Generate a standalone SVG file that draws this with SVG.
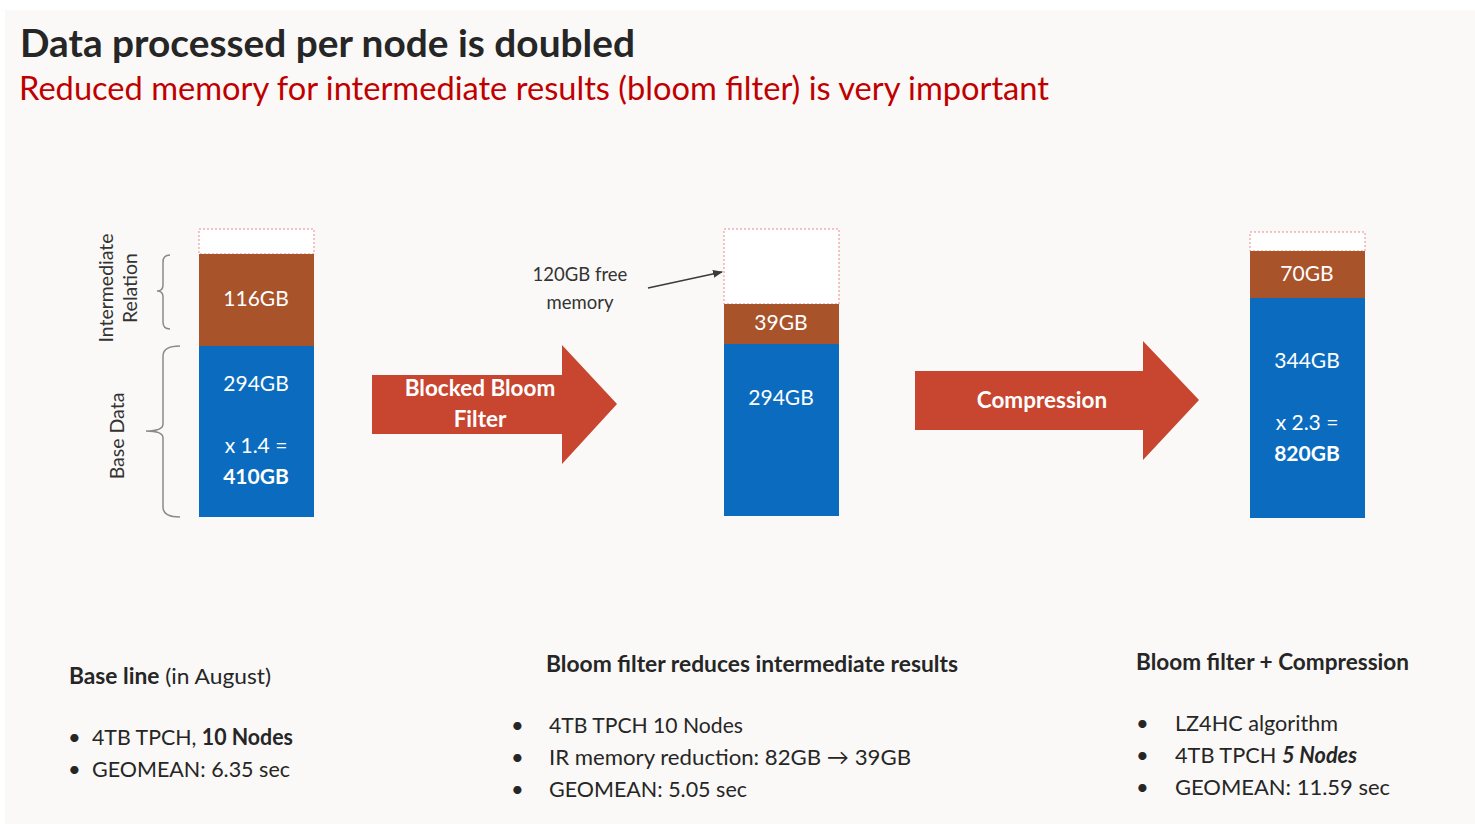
<svg xmlns="http://www.w3.org/2000/svg" width="1475" height="824" viewBox="0 0 1475 824">
<defs>
<style>
text{font-family:Lato,"Open Sans","Liberation Sans",sans-serif;fill:#262626}
.w{fill:#ffffff;text-anchor:middle}
.b{font-weight:bold}
.bar{font-size:21px}
.arr{font-size:22.5px;font-weight:bold}
.side{font-size:19.5px;fill:#333}
.note{font-size:18.5px;fill:#333}
.body{font-size:22px}
.free{fill:#ffffff;stroke:#e88b8b;stroke-width:1;stroke-dasharray:2 2}
.brown{fill:#a9532a}
.blue{fill:#0b6cbf}
.bigarrow{fill:#c8452f}
.brace{fill:none;stroke:#8a8a8a;stroke-width:1.5}
</style>
<marker id="ah" markerWidth="10" markerHeight="8" refX="9" refY="4" orient="auto" markerUnits="userSpaceOnUse">
<path d="M0,0 L10,4 L0,8 z" fill="#3a3a3a"/>
</marker>
</defs>
<rect x="0" y="0" width="1475" height="824" fill="#ffffff"/>
<rect x="5" y="10" width="1470" height="814" fill="#faf9f7"/>

<g id="title">
<text x="20" y="57" font-size="38" class="b" textLength="615" lengthAdjust="spacingAndGlyphs">Data processed per node is doubled</text>
<text x="19" y="100" font-size="32" style="fill:#c00000" textLength="1030" lengthAdjust="spacingAndGlyphs">Reduced memory for intermediate results (bloom filter) is very important</text>
</g>

<g id="bar-baseline">
<rect class="free" x="199" y="229" width="115" height="25"/>
<rect class="brown" x="199" y="254" width="115" height="92"/>
<rect class="blue" x="199" y="346" width="115" height="171"/>
<text class="w bar" x="256" y="306">116GB</text>
<text class="w bar" x="256" y="391">294GB</text>
<text class="w bar" x="256" y="453">x 1.4 =</text>
<text class="w bar b" x="256" y="484">410GB</text>
</g>

<g id="labels-left">
<path class="brace" d="M170,255 Q163,255 163,262 L163,285 Q163,291 157,291 Q163,291 163,297 L163,322 Q163,329 170,329"/>
<path class="brace" d="M180,346 Q163,346 163,356 L163,424 Q163,431 146,431 Q163,431 163,438 L163,507 Q163,517 180,517"/>
<text class="side" transform="translate(113,288) rotate(-90)" text-anchor="middle">Intermediate</text>
<text class="side" transform="translate(137,288) rotate(-90)" text-anchor="middle">Relation</text>
<text class="side" transform="translate(124,436) rotate(-90)" text-anchor="middle">Base Data</text>
</g>

<g id="arrow-bloom">
<path class="bigarrow" d="M372,375 L562,375 L562,345 L617,404 L562,464 L562,434 L372,434 z"/>
<text class="w arr" x="480" y="396">Blocked Bloom</text>
<text class="w arr" x="480" y="427">Filter</text>
</g>

<g id="bar-bloom">
<rect class="free" x="724" y="229" width="115" height="75"/>
<rect class="brown" x="724" y="304" width="115" height="40"/>
<rect class="blue" x="724" y="344" width="115" height="172"/>
<text class="w bar" x="781" y="330">39GB</text>
<text class="w bar" x="781" y="405">294GB</text>
</g>

<g id="annotation-free">
<text class="note" x="580" y="281" text-anchor="middle">120GB free</text>
<text class="note" x="580" y="309" text-anchor="middle">memory</text>
</g>

<g id="connectors">
<line x1="648" y1="288" x2="722" y2="272" stroke="#3a3a3a" stroke-width="1.5" marker-end="url(#ah)"/>
</g>

<g id="arrow-compression">
<path class="bigarrow" d="M915,371 L1143,371 L1143,341 L1199,400 L1143,460 L1143,430 L915,430 z"/>
<text class="w arr" x="1042" y="408">Compression</text>
</g>

<g id="bar-compression">
<rect class="free" x="1250" y="232" width="115" height="19"/>
<rect class="brown" x="1250" y="251" width="115" height="47"/>
<rect class="blue" x="1250" y="298" width="115" height="220"/>
<text class="w bar" x="1307" y="281">70GB</text>
<text class="w bar" x="1307" y="368">344GB</text>
<text class="w bar" x="1307" y="430">x 2.3 =</text>
<text class="w bar b" x="1307" y="461">820GB</text>
</g>

<g id="notes-baseline">
<text x="69" y="684" class="body" textLength="202" lengthAdjust="spacingAndGlyphs"><tspan class="b">Base line</tspan> (in August)</text>
<text x="68" y="745" class="body">•</text>
<text x="92" y="745" class="body" textLength="201" lengthAdjust="spacingAndGlyphs">4TB TPCH, <tspan class="b">10 Nodes</tspan></text>
<text x="68" y="777" class="body">•</text>
<text x="92" y="777" class="body" textLength="198" lengthAdjust="spacingAndGlyphs">GEOMEAN: 6.35 sec</text>
</g>

<g id="notes-bloom">
<text x="546" y="672" class="body b" textLength="412" lengthAdjust="spacingAndGlyphs">Bloom filter reduces intermediate results</text>
<text x="511" y="733" class="body">•</text>
<text x="549" y="733" class="body" textLength="194" lengthAdjust="spacingAndGlyphs">4TB TPCH 10 Nodes</text>
<text x="511" y="765" class="body">•</text>
<text x="549" y="765" class="body" textLength="362" lengthAdjust="spacingAndGlyphs">IR memory reduction: 82GB → 39GB</text>
<text x="511" y="797" class="body">•</text>
<text x="549" y="797" class="body" textLength="198" lengthAdjust="spacingAndGlyphs">GEOMEAN: 5.05 sec</text>
</g>

<g id="notes-compression">
<text x="1136" y="670" class="body b" textLength="273" lengthAdjust="spacingAndGlyphs">Bloom filter + Compression</text>
<text x="1136" y="731" class="body">•</text>
<text x="1175" y="731" class="body" textLength="163" lengthAdjust="spacingAndGlyphs">LZ4HC algorithm</text>
<text x="1136" y="763" class="body">•</text>
<text x="1175" y="763" class="body" textLength="182" lengthAdjust="spacingAndGlyphs">4TB TPCH <tspan class="b" font-style="italic">5 Nodes</tspan></text>
<text x="1136" y="795" class="body">•</text>
<text x="1175" y="795" class="body" textLength="215" lengthAdjust="spacingAndGlyphs">GEOMEAN:  11.59 sec</text>
</g>
</svg>
